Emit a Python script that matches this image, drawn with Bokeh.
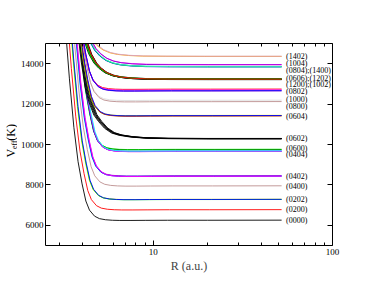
import math
from bokeh.plotting import figure
from bokeh.layouts import row
from bokeh.models import Range1d, LogAxis, LinearAxis, FixedTicker, PrintfTickFormatter, CustomJSTickFormatter
from bokeh.embed import file_html
from bokeh.resources import INLINE
from bokeh.core.properties import value

# ---------------- data ----------------
r_grid = [3.0, 3.2, 3.4, 3.6, 3.8, 4.0, 4.2, 4.4, 4.7, 5.0, 5.4, 5.9, 6.5, 7.5, 9.0, 12.0, 20.0, 52.0]
# excess above plateau (K) of three kinds of curves, read on r_grid
prof_sharp = [14000, 10000, 7000, 4600, 2900, 1800, 950, 500, 200, 80, 25, 0, -10, -10, -5, 0, 0, 5]
prof_medium = [22000, 16000, 11500, 8000, 5500, 3800, 2550, 1850, 1180, 850, 520, 290, 175, 90, 35, 10, 0, 0]
prof_soft = [16000, 11000, 7500, 5200, 3600, 2500, 1760, 1250, 800, 540, 320, 180, 100, 45, 15, 5, 0, 0]

curve_plateau = [6250, 6770, 7285, 7275, 7280, 7950, 8440, 8430, 8450, 8425,
                 9760, 9745, 9670, 9660, 9655, 9680,
                 10280, 10290, 10300, 10285, 10295,
                 11440, 11420, 11410, 11430, 12190, 12120,
                 12740, 12700, 12650, 12660,
                 13240, 13230, 13220, 13250, 13210, 13240, 13250, 13235,
                 13860, 13840, 13850, 13855, 13960, 13945, 14360, 14370]
curve_profile = (["sharp"] * 31 + ["soft"] * 16)
curve_profile[16:21] = ["medium"] * 5
curve_rscale = [1.000, 1.025, 1.045, 1.050, 1.055, 1.070, 1.080, 1.085, 1.090, 1.095,
                1.100, 1.105, 1.110, 1.115, 1.120, 1.125,
                0.990, 1.000, 1.010, 1.020, 1.030,
                1.060, 1.065, 1.070, 1.075, 1.055, 1.060,
                1.040, 1.045, 1.050, 1.050,
                0.990, 1.000, 1.010, 1.020, 1.030, 1.000, 1.010, 1.020,
                1.000, 1.005, 1.010, 1.015, 1.010, 1.020, 0.970, 0.980]
curve_color = ["black", "#ff0000", "#ffff00", "#00ff00", "#0000ff", "#bc8f8f",
               "#00ffff", "#0000ff", "#9400d3", "#ff00ff",
               "#00ff00", "#008b00", "#0000ff", "#9400d3", "#ff00ff", "#00ffff",
               "black", "black", "black", "black", "black",
               "#ffff00", "#00ff00", "#ff0000", "#0000ff", "#dcdcdc", "#bc8f8f",
               "#ff0000", "#ff00ff", "#9400d3", "#0000ff",
               "black", "black", "black", "black", "black", "#00ff00", "#008b00", "#ff0000",
               "#00ffff", "#0000ff", "#00ff00", "#40e0d0", "#ff00ff", "#9400d3",
               "#ffa500", "#d8a0c0"]

label_text = ["(1402)", "(1004)", "(0804);(1400)", "(0606);(1202)", "(1200);(1002)",
              "(0802)", "(1000)", "(0800)", "(0604)", "(0602)", "(0600)", "(0404)",
              "(0402)", "(0400)", "(0202)", "(0200)", "(0000)"]
label_v = [14376, 14030, 13669, 13258, 12961, 12630, 12249, 11902, 11393,
           10290, 9825, 9528, 8440, 7915, 7272, 6777, 6248]

x_major_ticks = [10, 100]
x_minor_ticks = [3, 4, 5, 6, 7, 8, 9, 20, 30, 40, 50, 60, 70, 80, 90]
y_major_ticks = [6000, 8000, 10000, 12000, 14000]

# ---------------- layout ----------------
H = 287
LW = 17            # strip holding the y axis title
W = 372 - LW

p = figure(width=W, height=H, x_axis_type="log",
           x_range=Range1d(2.5, 100), y_range=Range1d(5000, 15000),
           output_backend="svg", toolbar_location=None,
           min_border_left=43 - LW, min_border_right=W + LW - 332,
           min_border_top=43, min_border_bottom=H - 245)
p.xgrid.visible = False
p.ygrid.visible = False
p.outline_line_color = None

xt = FixedTicker(ticks=x_major_ticks, minor_ticks=x_minor_ticks)
yt = FixedTicker(ticks=y_major_ticks, minor_ticks=[])


def style(ax, show_labels):
    ax.axis_line_color = "black"
    ax.axis_line_width = 1
    ax.major_tick_in = 5
    ax.major_tick_out = 0
    ax.minor_tick_in = 3
    ax.minor_tick_out = 0
    ax.major_tick_line_color = "black"
    ax.minor_tick_line_color = "black"
    ax.major_label_text_font = "Liberation Serif"
    ax.major_label_text_color = "black"
    ax.major_label_text_font_size = "9px"
    ax.major_label_standoff = 3
    if show_labels:
        ax.formatter = PrintfTickFormatter(format="%d")
    else:
        ax.formatter = CustomJSTickFormatter(code="return ''")


xa = p.xaxis[0]
xa.ticker = xt
style(xa, True)
xa.axis_label = "R (a.u.)"
xa.axis_label_text_font = "Liberation Serif"
xa.axis_label_text_font_style = "normal"
xa.axis_label_text_font_size = "12px"
xa.axis_label_standoff = 1

ya = p.yaxis[0]
ya.ticker = yt
style(ya, True)
ya.major_label_standoff = 2

top = LogAxis(ticker=xt)
style(top, False)
p.add_layout(top, "above")
right = LinearAxis(ticker=yt)
style(right, False)
p.add_layout(right, "right")

profiles = {"sharp": prof_sharp, "medium": prof_medium, "soft": prof_soft}
xs, ys = [], []
for v0, kind, sc in zip(curve_plateau, curve_profile, curve_rscale):
    exc = profiles[kind]
    xs.append([r * sc for r in r_grid[:-1]] + [r_grid[-1]])
    ys.append([v0 + e for e in exc])

p.multi_line(xs=xs, ys=ys, line_color=curve_color, line_width=0.9)

p.text(x=[55.0] * len(label_text), y=label_v, text=label_text,
       text_font=value("Liberation Serif"), text_font_size=value("8px"),
       text_baseline="middle", text_align="left", text_color="black")

# ---------------- y axis title strip: V_eff (K) ----------------
lf = figure(width=LW, height=H, x_range=Range1d(0, LW), y_range=Range1d(0, H),
            output_backend="svg", toolbar_location=None, min_border=0)
lf.axis.visible = False
lf.xgrid.visible = False
lf.ygrid.visible = False
lf.outline_line_color = None
title_parts = ["V", "eff", "(K)"]
lf.text(x=[10.5, 13.5, 10.5], y=[H - 162, H - 150, H - 138], text=title_parts,
        angle=math.pi / 2, text_font=value("Liberation Serif"),
        text_font_size=["12px", "8px", "12px"], text_color="black",
        text_align="left", text_baseline="alphabetic")

layout = row(lf, p, spacing=0)
open("out.html", "w").write(file_html(layout, INLINE))
